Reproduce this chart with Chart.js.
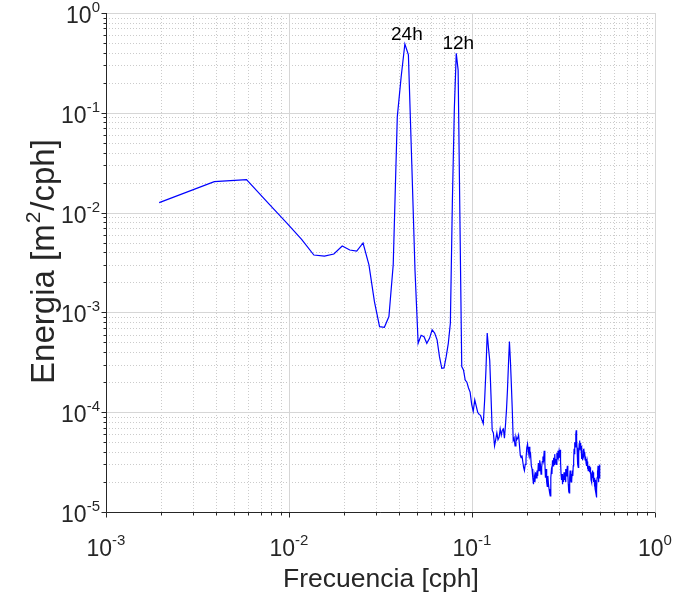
<!DOCTYPE html>
<html><head><meta charset="utf-8">
<script src="https://cdn.jsdelivr.net/npm/chart.js@4/dist/chart.umd.min.js"></script>
<style>html,body{margin:0;padding:0;background:#fff;}#wrap{width:683px;height:596px;}</style>
</head><body><div id="wrap"><canvas id="c" width="683" height="596"></canvas></div>
<script>
// FFT bins: k = 1..256, frequency = k / 512 cph
const binWidth = 1 / 512;
// Energy [m^2/cph], one value per bin
const energy = [
 0.0126,0.0204,0.0214,0.0121,0.0078,0.0054,0.00376,0.00367,0.00385,0.00463,
 0.00422,0.00412,0.00496,0.00299,0.00128,0.00072,0.00071,0.00091,0.0030,0.091,
 0.23,0.489,0.38,0.031,0.0026,0.00049,0.00059,0.00057,0.00049,0.00055,
 0.00067,0.00062,0.00053,0.00036,0.000275,0.000278,0.00036,0.00049,0.00078,0.013,
 0.11,0.394,0.268,0.008,2.86e-4,2.65e-4,2.1e-4,2.0e-4,1.75e-4,1.59e-4,
 1.2e-4,1.02e-4,1.33e-4,1.15e-4,1.0e-4,9.5e-5,9.3e-5,8.4e-5,7.7e-5,1.3e-4,
 2.6e-4,6.2e-4,4.4e-4,3.3e-4,1.5e-4,6.6e-5,6.2e-5,4.6e-5,5.3e-5,6.2e-5,
 5.3e-5,5.6e-5,6.8e-5,5.9e-5,6.6e-5,6.8e-5,5.5e-5,7.4e-5,1.05e-4,1.67e-4,
 3.0e-4,5.1e-4,3.3e-4,1.9e-4,1.05e-4,5.2e-5,5.5e-5,4.6e-5,5.7e-5,5.3e-5,
 5.5e-5,5.9e-5,4.7e-5,3.7e-5,3.5e-5,3.7e-5,3.2e-5,2.8e-5,2.6e-5,3.0e-5,
 3.4e-5,4.4e-5,4.8e-5,3.9e-5,4.5e-5,3.6e-5,3.8e-5,2.9e-5,2.7e-5,2.2e-5,
 1.9e-5,2.3e-5,2.0e-5,2.5e-5,2.2e-5,2.6e-5,2.3e-5,3.1e-5,2.6e-5,3.3e-5,
 3.0e-5,2.4e-5,2.8e-5,3.2e-5,3.6e-5,3.3e-5,4.1e-5,3.2e-5,2.2e-5,2.7e-5,
 2.0e-5,1.8e-5,2.3e-5,1.9e-5,1.7e-5,1.55e-5,1.45e-5,2.2e-5,2.6e-5,2.4e-5,
 3.3e-5,2.9e-5,3.5e-5,3.0e-5,3.8e-5,3.1e-5,3.4e-5,3.0e-5,3.9e-5,3.4e-5,
 4.1e-5,3.6e-5,4.0e-5,3.5e-5,4.2e-5,3.2e-5,2.4e-5,2.1e-5,2.4e-5,1.9e-5,
 2.3e-5,2.0e-5,2.5e-5,2.1e-5,2.4e-5,2.0e-5,2.7e-5,2.3e-5,2.6e-5,2.9e-5,
 2.4e-5,1.9e-5,1.6e-5,1.55e-5,2.2e-5,2.6e-5,2.2e-5,2.0e-5,2.4e-5,2.1e-5,
 2.6e-5,2.3e-5,2.9e-5,3.3e-5,4.3e-5,3.8e-5,5.0e-5,4.5e-5,6.0e-5,6.6e-5,
 5.2e-5,4.4e-5,3.5e-5,3.0e-5,2.8e-5,3.8e-5,4.6e-5,5.2e-5,4.4e-5,4.9e-5,
 4.2e-5,4.6e-5,3.8e-5,3.4e-5,3.8e-5,3.3e-5,3.9e-5,4.3e-5,3.7e-5,4.0e-5,
 3.6e-5,3.9e-5,3.3e-5,3.6e-5,3.1e-5,3.4e-5,2.9e-5,3.2e-5,2.7e-5,3.0e-5,
 2.6e-5,2.9e-5,2.6e-5,2.9e-5,2.5e-5,2.8e-5,2.4e-5,2.6e-5,2.1e-5,2.3e-5,
 2.0e-5,2.5e-5,2.2e-5,2.6e-5,2.3e-5,2.5e-5,2.0e-5,2.2e-5,1.8e-5,2.0e-5,
 1.7e-5,2.1e-5,1.6e-5,1.5e-5,1.4e-5,1.7e-5,2.2e-5,2.6e-5,2.3e-5,2.9e-5,
 2.4e-5,2.0e-5,2.5e-5,2.2e-5,2.7e-5,3.0e-5
];
const frequency = energy.map((_, i) => (i + 1) * binWidth);

// Axis decades (tick labels 10^n)
const xExponents = [-3, -2, -1, 0];
const yExponents = [-5, -4, -3, -2, -1, 0];
const peakLabels = ['24h', '12h'];
const peakBins = [22, 42];

const FONT = '"Liberation Sans", Arial, Helvetica, sans-serif';

function drawPow(ctx, exp, x, baseY, align, baseSize, supSize, rise) {
  ctx.font = baseSize + 'px ' + FONT;
  const wb = ctx.measureText('10').width;
  ctx.font = supSize + 'px ' + FONT;
  const es = String(exp);
  const we = ctx.measureText(es).width;
  const total = wb + we;
  const left = align === 'center' ? x - total / 2 : x - total;
  ctx.textAlign = 'left';
  ctx.textBaseline = 'alphabetic';
  ctx.font = baseSize + 'px ' + FONT;
  ctx.fillText('10', left, baseY);
  ctx.font = supSize + 'px ' + FONT;
  ctx.fillText(es, left + wb, baseY - rise);
}

const axesPlugin = {
  id: 'matlabAxes',
  beforeDatasetsDraw(chart) {
    const { ctx, chartArea: a, scales: { x, y } } = chart;
    ctx.save();
    ctx.lineWidth = 1;
    ctx.strokeStyle = '#cbcbcb';
    ctx.setLineDash([1, 2]);
    for (let e = -3; e < 0; e++) for (let m = 2; m <= 9; m++) {
      const px = Math.round(x.getPixelForValue(m * Math.pow(10, e))) + 0.5;
      ctx.beginPath(); ctx.moveTo(px, a.top); ctx.lineTo(px, a.bottom); ctx.stroke();
    }
    for (let e = -5; e < 0; e++) for (let m = 2; m <= 9; m++) {
      const py = Math.round(y.getPixelForValue(m * Math.pow(10, e))) + 0.5;
      ctx.beginPath(); ctx.moveTo(a.left, py); ctx.lineTo(a.right, py); ctx.stroke();
    }
    ctx.setLineDash([]);
    ctx.strokeStyle = '#d6d6d6';
    xExponents.forEach(e => {
      const px = Math.round(x.getPixelForValue(Math.pow(10, e))) + 0.5;
      ctx.beginPath(); ctx.moveTo(px, a.top); ctx.lineTo(px, a.bottom); ctx.stroke();
    });
    yExponents.forEach(e => {
      const py = Math.round(y.getPixelForValue(Math.pow(10, e))) + 0.5;
      ctx.beginPath(); ctx.moveTo(a.left, py); ctx.lineTo(a.right, py); ctx.stroke();
    });
    ctx.restore();
  },
  afterDatasetsDraw(chart) {
    const { ctx, chartArea: a, scales: { x, y } } = chart;
    ctx.save();
    ctx.strokeStyle = '#262626';
    ctx.fillStyle = '#262626';
    ctx.lineWidth = 1;
    const L = Math.round(a.left) + 0.5, B = Math.round(a.bottom) + 0.5;
    ctx.beginPath(); ctx.moveTo(L, a.top); ctx.lineTo(L, B); ctx.lineTo(a.right, B); ctx.stroke();
    for (let e = -3; e <= 0; e++) for (let m = 1; m <= 9; m++) {
      const v = m * Math.pow(10, e); if (v > 1) break;
      const px = Math.round(x.getPixelForValue(v)) + 0.5;
      ctx.beginPath(); ctx.moveTo(px, B); ctx.lineTo(px, B + (m === 1 ? 5 : 3)); ctx.stroke();
    }
    for (let e = -5; e <= 0; e++) for (let m = 1; m <= 9; m++) {
      const v = m * Math.pow(10, e); if (v > 1) break;
      const py = Math.round(y.getPixelForValue(v)) + 0.5;
      ctx.beginPath(); ctx.moveTo(L, py); ctx.lineTo(L - (m === 1 ? 5 : 3), py); ctx.stroke();
    }
    xExponents.forEach(e => {
      drawPow(ctx, e, x.getPixelForValue(Math.pow(10, e)), a.bottom + 44, 'center', 23, 15, 11);
    });
    yExponents.forEach(e => {
      drawPow(ctx, e, a.left - 6, y.getPixelForValue(Math.pow(10, e)) + 10, 'right', 23, 15, 11);
    });
    ctx.font = '26.5px ' + FONT;
    ctx.textAlign = 'center';
    ctx.textBaseline = 'alphabetic';
    ctx.fillText('Frecuencia [cph]', (a.left + a.right) / 2 + 0.5, 587);
    ctx.save();
    ctx.translate(54, (a.top + a.bottom) / 2);
    ctx.rotate(-Math.PI / 2);
    const p1 = 'Energia [m', p2 = '2', p3 = '/cph]';
    ctx.font = '33px ' + FONT; const w1 = ctx.measureText(p1).width, w3 = ctx.measureText(p3).width;
    ctx.font = '21px ' + FONT; const w2 = ctx.measureText(p2).width;
    const s = -(w1 + w2 + w3) / 2;
    ctx.textAlign = 'left';
    ctx.font = '33px ' + FONT; ctx.fillText(p1, s, 0);
    ctx.font = '21px ' + FONT; ctx.fillText(p2, s + w1 + 1, -14);
    ctx.font = '33px ' + FONT; ctx.fillText(p3, s + w1 + w2 + 2, 0);
    ctx.restore();
    ctx.fillStyle = '#000';
    ctx.font = '19px ' + FONT;
    ctx.textAlign = 'center';
    peakLabels.forEach((t, i) => {
      const k = peakBins[i];
      const px = x.getPixelForValue(frequency[k - 1]);
      const py = y.getPixelForValue(energy[k - 1]);
      ctx.fillText(t, px + 2, py - 4);
    });
    ctx.restore();
  }
};

new Chart(document.getElementById('c'), {
  type: 'line',
  data: {
    datasets: [{
      data: frequency.map((f, i) => ({ x: f, y: energy[i] })),
      borderColor: '#0000ff',
      borderWidth: 1.2,
      pointRadius: 0,
      tension: 0,
      fill: false
    }]
  },
  options: {
    responsive: false,
    animation: false,
    events: [],
    layout: { padding: { left: 106, right: 28, top: 13, bottom: 84 } },
    plugins: { legend: { display: false }, tooltip: { enabled: false } },
    scales: {
      x: { type: 'logarithmic', min: 1e-3, max: 1, display: false },
      y: { type: 'logarithmic', min: 1e-5, max: 1, display: false }
    }
  },
  plugins: [axesPlugin]
});
</script>
</body></html>
